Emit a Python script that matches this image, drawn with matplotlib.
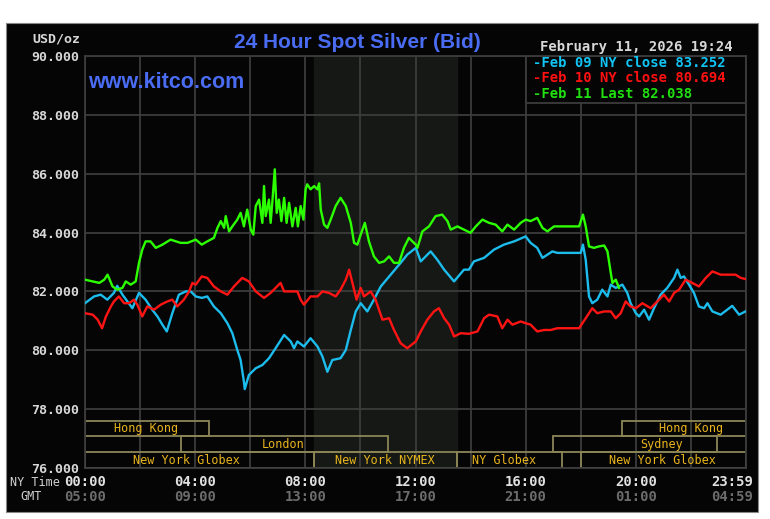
import matplotlib
matplotlib.use("Agg")
import matplotlib.pyplot as plt
from matplotlib.patches import Rectangle

# ---------------- DATA (hours NY time, USD/oz) ----------------
feb09_hours = [0.0, 0.33, 0.57, 0.81, 1.05, 1.17, 1.36, 1.54, 1.72, 1.96, 2.20, 2.44, 2.63, 2.81, 2.97,
               3.17, 3.41, 3.66, 3.84, 4.02, 4.24, 4.44, 4.68, 4.93, 5.17, 5.35, 5.53, 5.65, 5.77, 5.80,
               5.95, 6.20, 6.44, 6.68, 6.92, 7.23, 7.47, 7.59, 7.71, 7.95, 8.19, 8.44, 8.62, 8.80, 8.98,
               9.28, 9.47, 9.65, 9.83, 10.01, 10.25, 10.49, 10.74, 11.10, 11.46, 11.70, 12.01, 12.19,
               12.55, 12.79, 13.04, 13.40, 13.76, 13.94, 14.12, 14.49, 14.85, 15.21, 15.58, 16.00, 16.18,
               16.42, 16.61, 16.79, 16.97, 17.15, 18.00, 18.08, 18.18, 18.30, 18.42, 18.60, 18.78, 18.97,
               19.09, 19.27, 19.51, 19.69, 19.81, 20.00, 20.12, 20.30, 20.48, 20.66, 20.90, 21.14, 21.39,
               21.51, 21.63, 21.75, 21.93, 22.11, 22.29, 22.48, 22.60, 22.78, 23.08, 23.32, 23.50, 23.75,
               23.98]
feb09_price = [81.60, 81.83, 81.89, 81.72, 81.95, 82.19, 81.89, 81.66, 81.43, 81.95, 81.72, 81.38, 81.15,
               80.87, 80.64, 81.26, 81.89, 82.00, 82.00, 81.83, 81.78, 81.83, 81.49, 81.26, 80.92, 80.58,
               80.01, 79.67, 78.93, 78.68, 79.16, 79.39, 79.50, 79.73, 80.07, 80.52, 80.30, 80.07, 80.30,
               80.13, 80.41, 80.13, 79.79, 79.27, 79.67, 79.73, 80.01, 80.69, 81.32, 81.60, 81.32, 81.72,
               82.17, 82.57, 82.97, 83.25, 83.48, 83.02, 83.36, 83.08, 82.74, 82.34, 82.74, 82.74, 83.02,
               83.14, 83.42, 83.59, 83.70, 83.87, 83.65, 83.48, 83.14, 83.25, 83.36, 83.31, 83.31, 83.59,
               83.08, 81.83, 81.60, 81.72, 82.06, 81.83, 82.23, 82.12, 82.23, 81.95, 81.60, 81.26, 81.15,
               81.38, 81.04, 81.43, 81.89, 82.12, 82.46, 82.74, 82.46, 82.51, 82.23, 81.95, 81.49, 81.43,
               81.60, 81.32, 81.21, 81.38, 81.51, 81.21, 81.32]

feb10_hours = [0.0, 0.28, 0.46, 0.62, 0.76, 0.94, 1.05, 1.23, 1.42, 1.60, 1.78, 1.90, 2.08, 2.26, 2.51,
               2.75, 2.99, 3.17, 3.35, 3.59, 3.78, 3.90, 4.02, 4.24, 4.44, 4.68, 4.93, 5.17, 5.41, 5.71,
               5.95, 6.20, 6.50, 6.74, 6.92, 7.10, 7.23, 7.47, 7.71, 7.83, 7.95, 8.19, 8.44, 8.62, 8.86,
               9.10, 9.28, 9.47, 9.59, 9.71, 9.86, 10.01, 10.13, 10.37, 10.55, 10.80, 11.04, 11.22, 11.46,
               11.70, 12.01, 12.19, 12.43, 12.67, 12.85, 13.04, 13.22, 13.40, 13.64, 13.94, 14.25, 14.49,
               14.67, 14.97, 15.15, 15.34, 15.52, 15.82, 16.00, 16.18, 16.42, 16.67, 16.91, 17.15, 17.94,
               18.18, 18.42, 18.60, 18.85, 19.09, 19.27, 19.45, 19.63, 19.81, 20.00, 20.24, 20.54, 20.78,
               21.02, 21.21, 21.39, 21.57, 21.81, 22.05, 22.29, 22.54, 22.78, 23.08, 23.38, 23.62, 23.81,
               23.99]
feb10_price = [81.26, 81.21, 81.04, 80.75, 81.15, 81.49, 81.66, 81.83, 81.60, 81.60, 81.72, 81.55, 81.15,
               81.49, 81.38, 81.55, 81.66, 81.72, 81.49, 81.72, 82.00, 82.29, 82.23, 82.51, 82.46, 82.17,
               82.00, 81.89, 82.17, 82.46, 82.34, 82.00, 81.78, 81.95, 82.12, 82.29, 82.00, 82.00, 82.00,
               81.72, 81.55, 81.83, 81.83, 82.00, 81.95, 81.83, 82.06, 82.40, 82.74, 82.29, 81.72, 82.12,
               81.83, 82.00, 81.72, 81.04, 81.09, 80.69, 80.24, 80.07, 80.30, 80.64, 81.04, 81.32, 81.43,
               81.09, 80.87, 80.47, 80.58, 80.56, 80.64, 81.09, 81.21, 81.15, 80.75, 81.04, 80.87, 80.98,
               80.92, 80.87, 80.64, 80.69, 80.69, 80.75, 80.75, 81.09, 81.43, 81.26, 81.32, 81.32, 81.09,
               81.26, 81.66, 81.49, 81.43, 81.60, 81.43, 81.66, 81.89, 81.66, 81.95, 82.06, 82.40, 82.29,
               82.17, 82.46, 82.68, 82.57, 82.57, 82.57, 82.46, 82.42]

feb11_hours = [0.0, 0.28, 0.52, 0.70, 0.82, 1.00, 1.17, 1.36, 1.48, 1.66, 1.84, 1.96, 2.08, 2.20, 2.38,
               2.57, 2.81, 3.11, 3.47, 3.72, 4.02, 4.24, 4.44, 4.68, 4.81, 4.93, 5.05, 5.11, 5.23, 5.35,
               5.53, 5.65, 5.77, 5.89, 6.02, 6.11, 6.20, 6.32, 6.44, 6.50, 6.56, 6.68, 6.74, 6.80, 6.89,
               6.96, 7.04, 7.13, 7.23, 7.32, 7.41, 7.53, 7.65, 7.73, 7.83, 7.93, 8.01, 8.07, 8.19, 8.32,
               8.44, 8.50, 8.56, 8.68, 8.80, 8.92, 9.10, 9.28, 9.47, 9.65, 9.77, 9.89, 10.01, 10.16, 10.31,
               10.49, 10.68, 10.86, 11.04, 11.22, 11.40, 11.58, 11.76, 12.01, 12.07, 12.25, 12.49, 12.73,
               12.97, 13.16, 13.28, 13.52, 13.76, 14.00, 14.19, 14.43, 14.67, 14.91, 15.15, 15.34, 15.58,
               15.82, 16.00, 16.18, 16.42, 16.61, 16.79, 17.03, 17.94, 18.08, 18.18, 18.30, 18.48, 18.66,
               18.85, 18.97, 19.09, 19.15, 19.27, 19.39]
feb11_price = [82.40, 82.34, 82.29, 82.40, 82.57, 82.17, 82.06, 82.12, 82.34, 82.23, 82.34, 82.97, 83.42,
               83.70, 83.70, 83.48, 83.59, 83.76, 83.65, 83.65, 83.76, 83.59, 83.70, 83.82, 84.16, 84.39,
               84.16, 84.56, 84.04, 84.21, 84.44, 84.67, 84.21, 84.78, 84.10, 83.93, 84.90, 85.12, 84.33,
               85.58, 84.56, 85.12, 84.33, 85.01, 86.15, 84.67, 85.12, 84.39, 85.18, 84.33, 85.01, 84.21,
               84.84, 84.21, 84.90, 84.44, 85.47, 85.64, 85.47, 85.58, 85.47, 85.67, 84.78, 84.27, 84.16,
               84.44, 84.90, 85.18, 84.90, 84.33, 83.65, 83.59, 83.93, 84.33, 83.70, 83.19, 82.97, 83.02,
               83.19, 82.97, 82.97, 83.48, 83.82, 83.59, 83.48, 84.04, 84.21, 84.56, 84.61, 84.39, 84.10,
               84.21, 84.10, 83.99, 84.21, 84.44, 84.33, 84.27, 84.04, 84.27, 84.10, 84.33, 84.44, 84.39,
               84.50, 84.16, 84.04, 84.21, 84.21, 84.61, 84.21, 83.53, 83.48, 83.53, 83.56, 83.36, 82.63,
               82.29, 82.40, 82.12]

legend_labels = ["-Feb 09 NY close 83.252", "-Feb 10 NY close 80.694", "-Feb 11 Last 82.038"]

tick_hours = [0, 4, 8, 12, 16, 20, 24]
ny_labels = ["00:00", "04:00", "08:00", "12:00", "16:00", "20:00", "23:59"]
gmt_labels = ["05:00", "09:00", "13:00", "17:00", "21:00", "01:00", "04:59"]

# sessions: name, start, end, row (0 = top), label x
sessions = [
    ("Hong Kong", 0.0, 4.5, 0, 2.2),
    ("London", 3.5, 11.0, 1, 7.2),
    ("New York Globex", 0.0, 8.33, 2, 3.7),
    ("New York NYMEX", 8.33, 13.5, 2, 10.9),
    ("NY Globex", 13.5, 17.33, 2, 15.2),
    ("New York Globex", 18.0, 24.0, 2, 20.95),
    ("Sydney", 17.0, 22.95, 1, 20.95),
    ("Hong Kong", 19.5, 24.0, 0, 22.0),
]
row_bottoms = [77.08, 76.54, 76.0]
row_tops = [77.6, 77.08, 76.54]

# ---------------- STYLE ----------------
BG = "#050506"
GRID = "#3c3c3c"
MONO = "DejaVu Sans Mono"
colors = ["#1cbcec", "#ff1414", "#2cff00"]
legend_colors = ["#10c4f4", "#ff1010", "#20e010"]

fig = plt.figure(figsize=(7.7, 5.19), dpi=100)
fig.patch.set_facecolor("white")
fig.patches.append(Rectangle((6 / 770, 1 - 512 / 519), 752 / 770, 489 / 519,
                             transform=fig.transFigure, facecolor=BG,
                             edgecolor="#888888", linewidth=0.8, zorder=-1))

ax = fig.add_axes([85 / 770, 1 - 468 / 519, 661 / 770, 412 / 519])
ax.set_zorder(1)
ax.set_facecolor(BG)
ax.set_xlim(0, 24)
ax.set_ylim(76, 90)

# NYMEX shading
ax.axvspan(8.33, 13.5, color="#151815", zorder=0.2)

ax.set_xticks(range(0, 25, 2))
ax.set_yticks(range(76, 91, 2))
ax.grid(True, color=GRID, linewidth=1.3)
ax.set_axisbelow(True)
ax.tick_params(axis="x", length=0, labelbottom=False)
ax.tick_params(axis="y", length=0, pad=4, labelcolor="#d8d8d8", labelsize=9.5)
ax.set_yticklabels([f"{v:.3f}" for v in range(76, 91, 2)], fontfamily=MONO, fontweight="bold")
for s in ax.spines.values():
    s.set_color(GRID)
    s.set_linewidth(1.3)

# lines
ax.plot(feb09_hours, feb09_price, color=colors[0], linewidth=1.7, zorder=3)
ax.plot(feb10_hours, feb10_price, color=colors[1], linewidth=1.7, zorder=3)
ax.plot(feb11_hours, feb11_price, color=colors[2], linewidth=1.7, zorder=4)

# legend box
ax.add_patch(Rectangle((16, 88.4), 8, 1.6, facecolor=BG, edgecolor=GRID, linewidth=1.3, zorder=2))
for i, (lab, c) in enumerate(zip(legend_labels, legend_colors)):
    ax.text(16.25, [89.76, 89.25, 88.71][i], lab, color=c, fontfamily=MONO, fontweight="bold",
            fontsize=10, va="center", ha="left", zorder=5)

# session boxes
for name, start, end, row, lx in sessions:
    ax.add_patch(Rectangle((start, row_bottoms[row]), end - start, row_tops[row] - row_bottoms[row],
                           fill=False, edgecolor="#8c8656", linewidth=1.3, zorder=2.5))
    ax.text(lx, (row_bottoms[row] + row_tops[row]) / 2, name, color="#e8b41c", fontfamily=MONO,
            fontsize=8.5, ha="center", va="center", zorder=5)

# x labels
xt = ax.get_xaxis_transform()
for h, a, b in zip(tick_hours, ny_labels, gmt_labels):
    xx = 24.27 if h == 24 else h
    ha = "right" if h == 24 else "center"
    ax.text(xx, -0.034, a, transform=xt, color="#e0e0e0", fontfamily=MONO, fontweight="bold",
            fontsize=10, ha=ha, va="center", clip_on=False)
    ax.text(xx, -0.0705, b, transform=xt, color="#6c6c6c", fontfamily=MONO, fontweight="bold",
            fontsize=10, ha=ha, va="center", clip_on=False)

fig.text(10 / 770, 1 - 482 / 519, "NY Time", color="#d0d0d0", fontfamily=MONO, fontsize=8.5,
         ha="left", va="center")
fig.text(20 / 770, 1 - 497 / 519, "GMT", color="#d0d0d0", fontfamily=MONO, fontsize=8.5,
         ha="left", va="center")
fig.text(80 / 770, 1 - 39 / 519, "USD/oz", color="#d8d8d8", fontfamily=MONO, fontweight="bold",
         fontsize=9.5, ha="right", va="center")

fig.text(357 / 770, 1 - 42 / 519, "24 Hour Spot Silver (Bid)", color="#4a6cf2",
         fontfamily="Liberation Sans", fontweight="bold", fontsize=15, ha="center", va="center")
ax.text(0.005, 0.935, "www.kitco.com", color="#4a6cf2", fontfamily="Liberation Sans",
        fontweight="bold", fontsize=15.5, ha="left", va="center", zorder=5, transform=ax.transAxes)
fig.text(733 / 770, 1 - 47 / 519, "February 11, 2026 19:24", color="#d8d8d8", fontfamily=MONO,
         fontweight="bold", fontsize=10, ha="right", va="center")

fig.savefig("out.png", dpi=100, facecolor="white")
